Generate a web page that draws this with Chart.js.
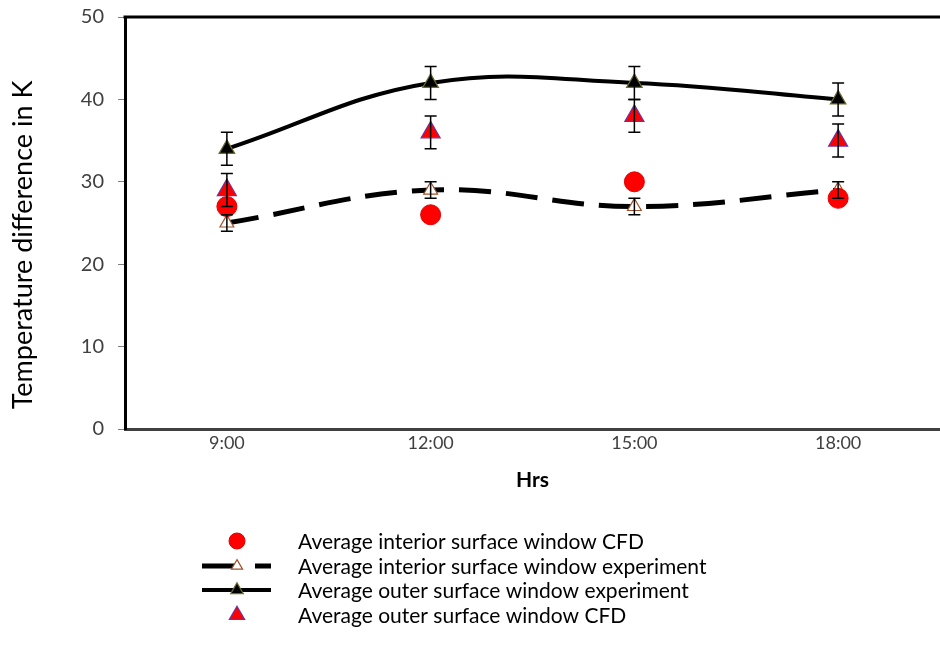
<!DOCTYPE html>
<html>
<head>
<meta charset="utf-8">
<script src="https://cdn.jsdelivr.net/npm/chart.js@4.4.1/dist/chart.umd.min.js"></script>
<style>
html,body{margin:0;padding:0;background:#fff;}
#wrap{width:940px;height:661px;position:relative;overflow:hidden;}
</style>
</head>
<body>
<div id="wrap"><canvas id="c" width="940" height="661"></canvas></div>
<script>
const categories = ['9:00', '12:00', '15:00', '18:00'];
const interiorCFD = [27, 26, 30, 28];
const interiorExp = [25, 29, 27, 29];
const interiorExpErr = [1, 1, 1, 1];
const outerExp = [34, 42, 42, 40];
const outerExpErr = [2, 2, 2, 2];
const outerCFD = [29, 36, 38, 35];
const outerCFDErr = [2, 2, 2, 2];
const yTicks = [0, 10, 20, 30, 40, 50];
const yTitle = 'Temperature difference in K';
const xTitle = 'Hrs';
const seriesLabels = [
  'Average interior surface window CFD',
  'Average interior surface window experiment',
  'Average outer surface window experiment',
  'Average outer surface window CFD'
];
const FONT = 'Lato, "Open Sans", sans-serif';

function drawMarker(ctx, ds, x, y, s) {
  const r = ds.pointRadius * s;
  ctx.save();
  ctx.setLineDash([]);
  ctx.fillStyle = ds.pointBackgroundColor;
  ctx.strokeStyle = ds.pointBorderColor;
  ctx.lineWidth = ds.pointBorderWidth;
  ctx.beginPath();
  if (ds.pointStyle === 'circle') {
    ctx.arc(x, y, r, 0, Math.PI * 2);
  } else {
    ctx.moveTo(x, y - r);
    ctx.lineTo(x + r * 0.87, y + r * 0.5);
    ctx.lineTo(x - r * 0.87, y + r * 0.5);
    ctx.closePath();
  }
  ctx.fill();
  ctx.stroke();
  ctx.restore();
}

const errorBars = {
  id: 'errorBars',
  afterDatasetsDraw(chart) {
    const ctx = chart.ctx;
    const y = chart.scales.y;
    chart.data.datasets.forEach((ds, i) => {
      if (!ds.errors) return;
      const meta = chart.getDatasetMeta(i);
      meta.data.forEach((pt, j) => {
        const v = ds.data[j], e = ds.errors[j];
        const x = pt.x;
        const yt = y.getPixelForValue(v + e), yb = y.getPixelForValue(v - e);
        ctx.save();
        ctx.strokeStyle = '#000';
        ctx.lineWidth = 1.5;
        ctx.beginPath();
        ctx.moveTo(x, yt); ctx.lineTo(x, yb);
        ctx.moveTo(x - 6, yt); ctx.lineTo(x + 6, yt);
        ctx.moveTo(x - 6, yb); ctx.lineTo(x + 6, yb);
        ctx.stroke();
        ctx.restore();
      });
    });
  }
};

const frame = {
  id: 'frame',
  afterDraw(chart) {
    const ctx = chart.ctx, a = chart.chartArea;
    ctx.save();
    ctx.strokeStyle = '#000';
    ctx.lineWidth = 3;
    ctx.beginPath();
    ctx.moveTo(a.left - 1.5, a.top); ctx.lineTo(chart.width, a.top);
    ctx.stroke();
    ctx.translate(23, 245);
    ctx.rotate(-Math.PI / 2);
    ctx.fillStyle = '#000';
    ctx.font = '27px ' + FONT;
    ctx.textAlign = 'center';
    ctx.textBaseline = 'middle';
    ctx.fillText(yTitle, 0, 0);
    ctx.restore();
  }
};

const customLegend = {
  id: 'customLegend',
  afterDraw(chart) {
    const ctx = chart.ctx;
    const rows = [541, 566, 590, 615];
    const mx = 237, tx = 298;
    ctx.save();
    chart.data.datasets.forEach((ds, k) => {
      const yy = rows[k];
      if (ds.showLine) {
        ctx.strokeStyle = ds.borderColor;
        ctx.lineWidth = ds.borderWidth;
        ctx.setLineDash([]);
        ctx.beginPath();
        if (ds.borderDash && ds.borderDash.length) {
          ctx.moveTo(202, yy); ctx.lineTo(237, yy);
          ctx.moveTo(255, yy); ctx.lineTo(271, yy);
        } else {
          ctx.moveTo(202, yy); ctx.lineTo(271, yy);
        }
        ctx.stroke();
      }
      drawMarker(ctx, ds, mx, yy, 0.8);
      ctx.fillStyle = '#000';
      ctx.font = '21px ' + FONT;
      ctx.textBaseline = 'middle';
      ctx.textAlign = 'left';
      ctx.fillText(ds.label, tx, yy + 1);
    });
    ctx.restore();
  }
};

const chart = new Chart(document.getElementById('c'), {
  type: 'line',
  data: {
    labels: categories,
    datasets: [
      {
        label: seriesLabels[0], data: interiorCFD, showLine: false,
        pointStyle: 'circle', pointRadius: 10, pointBackgroundColor: '#FF0000',
        pointBorderColor: '#E00000', pointBorderWidth: 1, borderColor: '#FF0000', order: 1
      },
      {
        label: seriesLabels[1], data: interiorExp, errors: interiorExpErr, showLine: true,
        borderColor: '#000', borderWidth: 5, borderDash: [32, 15], tension: 0.4,
        pointStyle: 'triangle', pointRadius: 8, pointBackgroundColor: '#FFFFFF',
        pointBorderColor: '#A0522D', pointBorderWidth: 1.2, order: 2
      },
      {
        label: seriesLabels[2], data: outerExp, errors: outerExpErr, showLine: true,
        borderColor: '#000', borderWidth: 4, tension: 0.4,
        pointStyle: 'triangle', pointRadius: 9, pointBackgroundColor: '#000000',
        pointBorderColor: '#6B6B2A', pointBorderWidth: 1.2, order: 3
      },
      {
        label: seriesLabels[3], data: outerCFD, errors: outerCFDErr, showLine: false,
        pointStyle: 'triangle', pointRadius: 11, pointBackgroundColor: '#FF0000',
        pointBorderColor: '#7030A0', pointBorderWidth: 1.2, borderColor: '#FF0000', order: 4
      }
    ]
  },
  options: {
    responsive: false,
    animation: false,
    devicePixelRatio: 1,
    layout: { autoPadding: false, padding: { top: 17, right: -5, bottom: 168, left: 0 } },
    plugins: { legend: { display: false }, tooltip: { enabled: false } },
    scales: {
      x: {
        type: 'category',
        offset: true,
        grid: { display: false, drawTicks: false },
        border: { display: true, color: '#404040', width: 3 },
        ticks: { color: '#404040', font: { family: FONT, size: 18 }, padding: 3 },
        title: { display: true, text: xTitle, color: '#000', font: { family: FONT, size: 21, weight: 'bold' }, padding: { top: 0, bottom: 0 } },
        afterFit(s) { s.height = 64; s.paddingLeft = 0; s.paddingRight = 0; }
      },
      y: {
        min: 0, max: 50,
        afterBuildTicks(s) { s.ticks = yTicks.map(v => ({ value: v })); },
        grid: { display: true, drawOnChartArea: false, drawTicks: true, tickLength: 7, color: '#808080' },
        border: { display: true, color: '#000', width: 3 },
        ticks: { color: '#404040', font: { family: FONT, size: 20 }, padding: 14 },
        title: { display: false },
        afterFit(s) { s.width = 125; s.paddingTop = 0; s.paddingBottom = 0; }
      }
    }
  },
  plugins: [errorBars, frame, customLegend]
});
</script>
</body>
</html>
